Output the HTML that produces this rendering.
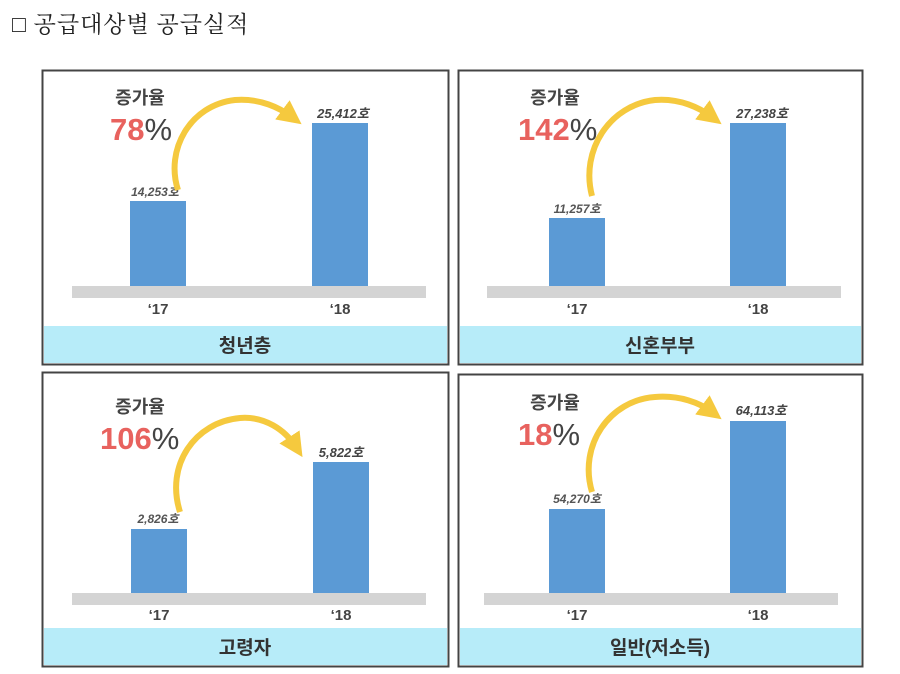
<!DOCTYPE html>
<html><head><meta charset="utf-8"><style>
body{margin:0;width:900px;height:674px;background:#fff;overflow:hidden;position:relative;font-family:"Liberation Sans","Noto Sans CJK KR",sans-serif}
.t{position:absolute;left:12px;top:6px;font-size:23px;letter-spacing:1px;font-family:"Liberation Serif","Noto Serif CJK SC","Noto Sans CJK KR",serif;color:#222}
svg{position:absolute;left:0;top:0}
</style></head><body>
<div class="t">□ 공급대상별 공급실적</div>
<svg width="900" height="674" font-family="Liberation Sans, Noto Sans CJK KR, sans-serif">
<defs><marker id="ah" markerWidth="4" markerHeight="4" refX="2" refY="2" orient="auto" markerUnits="strokeWidth"><path d="M0,0 L4,2 L0,4 z" fill="#f5c93e"/></marker></defs>
<g>
<rect x="42.5" y="70.5" width="406" height="294" fill="#fff" stroke="#444" stroke-width="2"/>
<rect x="44" y="326" width="403" height="37" fill="#b7ecf9"/>
<text x="245" y="352" font-size="19" font-weight="bold" text-anchor="middle" fill="#333">청년층</text>
<rect x="72" y="286" width="354" height="12" fill="#d4d4d4"/>
<rect x="130" y="201" width="56" height="85" fill="#5b9ad5"/>
<rect x="312" y="123" width="56" height="163" fill="#5b9ad5"/>
<text x="158" y="314" font-size="15" font-weight="bold" text-anchor="middle" fill="#444">‘17</text>
<text x="340" y="314" font-size="15" font-weight="bold" text-anchor="middle" fill="#444">‘18</text>
<text x="155" y="196" font-size="12" font-style="italic" font-weight="bold" text-anchor="middle" fill="#555">14,253호</text>
<text x="343" y="118" font-size="13" font-style="italic" font-weight="bold" text-anchor="middle" fill="#444">25,412호</text>
<text x="140" y="104" font-size="18" font-weight="bold" text-anchor="middle" fill="#444">증가율</text>
<text x="110" y="140" font-size="31" font-weight="bold" fill="#e8625e">78<tspan fill="#444" font-weight="normal">%</tspan></text>
<path d="M178,190 C165,150 190,105 235,100 C260,98 280,108 292,117" fill="none" stroke="#f5c93e" stroke-width="6" marker-end="url(#ah)"/>
</g>
<g>
<rect x="458.5" y="70.5" width="404" height="294" fill="#fff" stroke="#444" stroke-width="2"/>
<rect x="460" y="326" width="401" height="37" fill="#b7ecf9"/>
<text x="660" y="352" font-size="19" font-weight="bold" text-anchor="middle" fill="#333">신혼부부</text>
<rect x="487" y="286" width="354" height="12" fill="#d4d4d4"/>
<rect x="549" y="218" width="56" height="68" fill="#5b9ad5"/>
<rect x="730" y="123" width="56" height="163" fill="#5b9ad5"/>
<text x="577" y="314" font-size="15" font-weight="bold" text-anchor="middle" fill="#444">‘17</text>
<text x="758" y="314" font-size="15" font-weight="bold" text-anchor="middle" fill="#444">‘18</text>
<text x="577" y="213" font-size="12" font-style="italic" font-weight="bold" text-anchor="middle" fill="#555">11,257호</text>
<text x="762" y="118" font-size="13" font-style="italic" font-weight="bold" text-anchor="middle" fill="#444">27,238호</text>
<text x="555" y="104" font-size="18" font-weight="bold" text-anchor="middle" fill="#444">증가율</text>
<text x="518" y="140" font-size="31" font-weight="bold" fill="#e8625e">142<tspan fill="#444" font-weight="normal">%</tspan></text>
<path d="M592,196 C580,150 610,105 655,100 C680,98 700,108 712,117" fill="none" stroke="#f5c93e" stroke-width="6" marker-end="url(#ah)"/>
</g>
<g>
<rect x="42.5" y="372.5" width="406" height="294" fill="#fff" stroke="#444" stroke-width="2"/>
<rect x="44" y="628" width="403" height="37" fill="#b7ecf9"/>
<text x="245" y="654" font-size="19" font-weight="bold" text-anchor="middle" fill="#333">고령자</text>
<rect x="72" y="593" width="354" height="12" fill="#d4d4d4"/>
<rect x="131" y="529" width="56" height="64" fill="#5b9ad5"/>
<rect x="313" y="462" width="56" height="131" fill="#5b9ad5"/>
<text x="159" y="620" font-size="15" font-weight="bold" text-anchor="middle" fill="#444">‘17</text>
<text x="341" y="620" font-size="15" font-weight="bold" text-anchor="middle" fill="#444">‘18</text>
<text x="158" y="523" font-size="12" font-style="italic" font-weight="bold" text-anchor="middle" fill="#555">2,826호</text>
<text x="341" y="457" font-size="13" font-style="italic" font-weight="bold" text-anchor="middle" fill="#444">5,822호</text>
<text x="140" y="413" font-size="18" font-weight="bold" text-anchor="middle" fill="#444">증가율</text>
<text x="100" y="449" font-size="31" font-weight="bold" fill="#e8625e">106<tspan fill="#444" font-weight="normal">%</tspan></text>
<path d="M180,512 C165,465 195,422 240,418 C265,416 285,430 296,447" fill="none" stroke="#f5c93e" stroke-width="6" marker-end="url(#ah)"/>
</g>
<g>
<rect x="458.5" y="374.5" width="404" height="292" fill="#fff" stroke="#444" stroke-width="2"/>
<rect x="460" y="628" width="401" height="37" fill="#b7ecf9"/>
<text x="660" y="654" font-size="19" font-weight="bold" text-anchor="middle" fill="#333">일반(저소득)</text>
<rect x="484" y="593" width="354" height="12" fill="#d4d4d4"/>
<rect x="549" y="509" width="56" height="84" fill="#5b9ad5"/>
<rect x="730" y="421" width="56" height="172" fill="#5b9ad5"/>
<text x="577" y="620" font-size="15" font-weight="bold" text-anchor="middle" fill="#444">‘17</text>
<text x="758" y="620" font-size="15" font-weight="bold" text-anchor="middle" fill="#444">‘18</text>
<text x="577" y="503" font-size="12" font-style="italic" font-weight="bold" text-anchor="middle" fill="#555">54,270호</text>
<text x="761" y="415" font-size="13" font-style="italic" font-weight="bold" text-anchor="middle" fill="#444">64,113호</text>
<text x="555" y="409" font-size="18" font-weight="bold" text-anchor="middle" fill="#444">증가율</text>
<text x="518" y="445" font-size="31" font-weight="bold" fill="#e8625e">18<tspan fill="#444" font-weight="normal">%</tspan></text>
<path d="M592,492 C578,445 610,400 655,397 C680,395 700,403 712,412" fill="none" stroke="#f5c93e" stroke-width="6" marker-end="url(#ah)"/>
</g>
</svg>
</body></html>
